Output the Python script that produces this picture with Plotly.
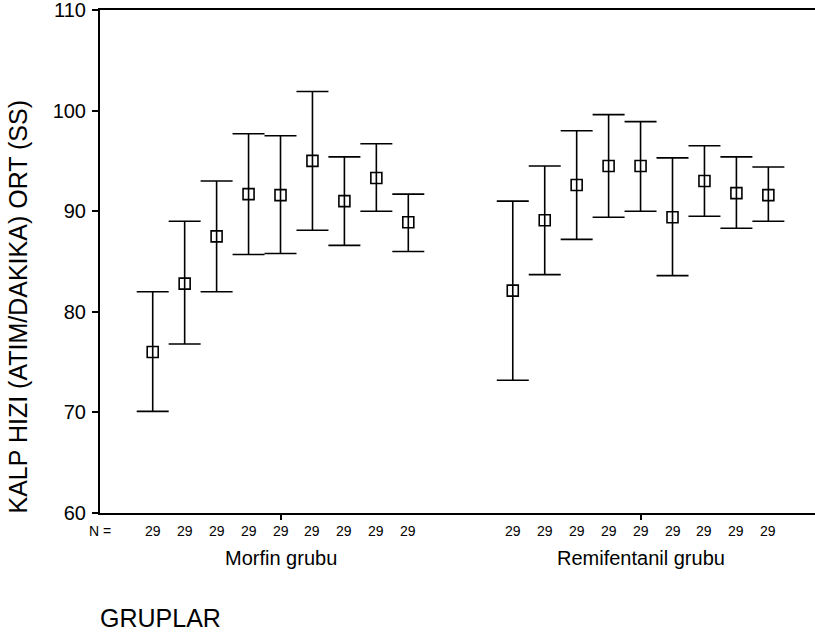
import plotly.graph_objects as go

# Heart rate (beats/min): mean and ±SD limits per measurement time
groups = ["Morfin grubu", "Remifentanil grubu"]

morfin_mean = [76.0, 82.8, 87.5, 91.7, 91.6, 95.0, 91.0, 93.3, 88.9]
morfin_low = [70.1, 76.8, 82.0, 85.7, 85.8, 88.1, 86.6, 90.0, 86.0]
morfin_high = [82.0, 89.0, 93.0, 97.7, 97.5, 101.9, 95.4, 96.7, 91.7]
morfin_n = [29, 29, 29, 29, 29, 29, 29, 29, 29]

remi_mean = [82.1, 89.1, 92.6, 94.5, 94.5, 89.4, 93.0, 91.8, 91.6]
remi_low = [73.2, 83.7, 87.2, 89.4, 90.0, 83.6, 89.5, 88.3, 89.0]
remi_high = [91.0, 94.5, 98.0, 99.6, 98.9, 95.3, 96.5, 95.4, 94.4]
remi_n = [29, 29, 29, 29, 29, 29, 29, 29, 29]

y_ticks = [60, 70, 80, 90, 100, 110]

FONT = "Liberation Sans, Arial, sans-serif"
GROUP_STEP = 11.27  # distance between cluster starts, in slot units

series = [
    (morfin_mean, morfin_low, morfin_high, morfin_n),
    (remi_mean, remi_low, remi_high, remi_n),
]

fig = go.Figure()
annotations = []
for g, (mean, low, high, ns) in enumerate(series):
    xs = [g * GROUP_STEP + i for i in range(len(mean))]
    fig.add_trace(go.Scatter(
        x=xs, y=mean, mode="markers", name=groups[g], showlegend=False,
        marker=dict(symbol="square-open", size=11, color="black",
                    line=dict(color="black", width=1.6)),
        error_y=dict(type="data", symmetric=False,
                     array=[h - m for h, m in zip(high, mean)],
                     arrayminus=[m - l for m, l in zip(mean, low)],
                     color="black", thickness=1.6, width=16),
        cliponaxis=False,
    ))
    for x, n in zip(xs, ns):
        annotations.append(dict(x=x, y=0, xref="x", yref="paper", text=str(n),
                                showarrow=False, yanchor="middle", yshift=-18,
                                font=dict(family=FONT, size=14, color="black")))

centers = [g * GROUP_STEP + 4 for g in range(len(groups))]
for c, name in zip(centers, groups):
    annotations.append(dict(x=c, y=0, xref="x", yref="paper", text=name,
                            showarrow=False, yanchor="middle", yshift=-45,
                            font=dict(family=FONT, size=20, color="black")))

annotations.append(dict(x=0, y=0, xref="paper", yref="paper", text="N =",
                        showarrow=False, xanchor="center", yanchor="middle",
                        yshift=-18, font=dict(family=FONT, size=14, color="black")))
annotations.append(dict(x=0, y=0, xref="paper", yref="paper", text="GRUPLAR",
                        showarrow=False, xanchor="left", yanchor="middle",
                        yshift=-105, xshift=-2,
                        font=dict(family=FONT, size=25, color="black")))
annotations.append(dict(x=-0.114, y=0.4115, xref="paper", yref="paper",
                        text="KALP HIZI (ATIM/DAKIKA) ORT (SS)", textangle=-90,
                        showarrow=False, xanchor="center", yanchor="middle",
                        font=dict(family=FONT, size=25, color="black")))

fig.update_layout(
    width=815, height=640,
    margin=dict(l=100, r=0, t=10, b=127),
    paper_bgcolor="white", plot_bgcolor="white",
    font=dict(family=FONT, color="black"),
    annotations=annotations,
    xaxis=dict(range=[-1.65, 20.73], showgrid=False, zeroline=False,
               showline=True, mirror=True, linecolor="black", linewidth=2,
               tickmode="array", tickvals=centers, ticktext=["", ""],
               ticks="outside", ticklen=5, tickwidth=1.5, tickcolor="black"),
    yaxis=dict(range=[60, 110], showgrid=False, zeroline=False,
               showline=True, mirror=False, linecolor="black", linewidth=2,
               tickmode="array", tickvals=y_ticks,
               ticks="outside", ticklen=6, tickwidth=1.5, tickcolor="black",
               ticklabelstandoff=2, ticklabeloverflow="allow",
               tickfont=dict(family=FONT, size=20, color="black")),
)

fig.write_html("out.html")
